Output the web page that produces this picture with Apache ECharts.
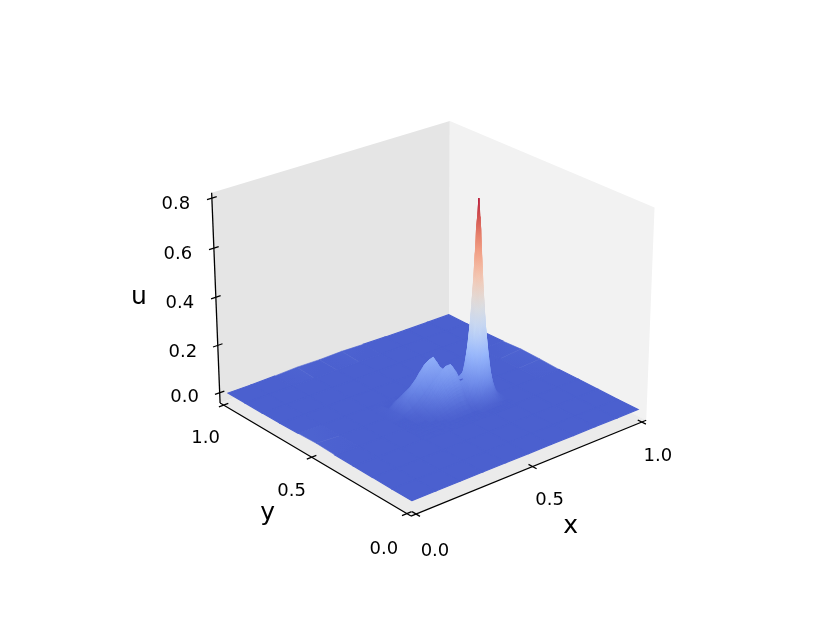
<!DOCTYPE html>
<html>
<head>
<meta charset="utf-8">
<style>html,body{margin:0;padding:0;background:#fff}#c{width:830px;height:623px}</style>
<script src="https://cdn.jsdelivr.net/npm/echarts@6/dist/echarts.min.js"></script>
</head>
<body>
<div id="c"></div>
<script>
// ---- axis contents
const xTicks = [0, 0.5, 1];
const yTicks = [0, 0.5, 1];
const uTicks = [0, 0.2, 0.4, 0.6, 0.8];
const xTickLabels = ['0.0', '0.5', '1.0'];
const yTickLabels = ['0.0', '0.5', '1.0'];
const uTickLabels = ['0.0', '0.2', '0.4', '0.6', '0.8'];
const uMin = -0.012, uMax = 0.82;

// ---- coarse sheet of the whole domain (rows: y, columns: x)
const sheetX = [0, .1, .2, .3, .4, .5, .6, .7, .8, .9, 1];
const sheetY = [0, .1, .2, .3, .4, .5, .6, .7, .8, .9, 1];
const sheetU = [
  [ .000, .000, .000, .000, .000, .000, .000, .000, .000, .000, .000],
  [ .000, .000, .000, .000, .000, .000, .000, .000, .000, .000, .000],
  [ .001, .000, .000, .000, .000, .000, .000, .000, .000, .000, .001],
  [ .002, .000, .000, .000, .000, .000, .000, .000, .000, .000, .002],
  [ .003, .000, .000, .000, .000, .000, .000, .000, .000, .000, .002],
  [ .006, .000, .000, .000, .000, .000, .000, .000, .000, .000, .006],
  [ .003, .000, .000, .000, .000, .000, .000, .000, .000, .000, .008],
  [ .001, .000, .000, .000, .000, .000, .000, .000, .000, .000, .003],
  [ .000, .000, .000, .000, .000, .000, .000, .000, .000, .000, .001],
  [ .000, .000, .000, .000, .000, .000, .000, .000, .000, .000, .000],
  [ .000, .000, .002, .006, .004, .006, .003, .001, .000, .000, .000]
];

// ---- finer patch around the three humps (rows: y, columns: x)
const patchX = [.30,.345,.385,.415,.44,.46,.48,.495,.51,.525,.545,.56,.573,
                .593,.603,.613,.618,.623,.628,.633,.638,.643,.648,.653,.663,.673,.693,.713];
const patchY = [.293,.318,.338,.358,.373,.383,.393,.398,.403,.408,.413,.418,.423,.428,.433,.443,.453,.468,.488,.503,.513,.543,.578,.60];
const patchU = [
 [0,0,0,0,0,0,0,0,0,0,0,0,0, 0,0,0,0,0,0,0,0,0,0,0,0,0,0,0],
 [0,0,0,0,0,0,.001,.001,.001,.001,.001,.001,.001, 0,0,0,0,0,0,0,0,0,0,0,0,0,0,0],
 [0,0,0,.001,.001,.001,.002,.002,.003,.003,.003,.003,.002, .004,.006,.008,.009,.009,.01,.01,.01,.009,.008,.007,.005,.003,0,0],
 [0,0,.001,.002,.003,.005,.007,.008,.009,.01,.01,.009,.012, .023,.034,.042,.047,.049,.05,.051,.05,.047,.045,.04,.03,.018,.004,0],
 [0,0,.002,.004,.007,.011,.015,.018,.02,.022,.023,.021,.03, .056,.083,.112,.129,.138,.145,.147,.144,.136,.126,.108,.075,.045,.012,.002],
 [0,.001,.003,.006,.012,.017,.023,.028,.032,.035,.036,.033,.048, .093,.138,.193,.217,.24,.249,.253,.247,.237,.211,.186,.126,.075,.02,.003],
 [0,.001,.004,.009,.017,.025,.034,.04,.046,.05,.052,.048,.069, .132,.203,.282,.32,.363,.396,.405,.394,.358,.312,.271,.186,.107,.028,.004],
 [0,.001,.005,.011,.02,.03,.04,.048,.055,.06,.062,.058,.079, .145,.225,.325,.387,.439,.477,.496,.474,.433,.377,.312,.211,.125,.031,.004],
 [0,.001,.005,.013,.024,.035,.047,.057,.064,.07,.073,.068,.085, .155,.25,.372,.444,.521,.593,.626,.59,.514,.433,.357,.236,.136,.033,.005],
 [0,.001,.006,.015,.027,.04,.055,.065,.074,.081,.084,.078,.09, .16,.26,.41,.486,.598,.70,.747,.696,.589,.473,.392,.246,.143,.034,.005],
 [0,.002,.007,.017,.031,.045,.061,.073,.083,.09,.094,.087,.095, .165,.27,.422,.508,.634,.751,.82,.746,.625,.494,.403,.251,.146,.035,.005],
 [0,.002,.008,.019,.034,.05,.068,.081,.092,.101,.105,.098,.10, .165,.265,.415,.49,.601,.702,.749,.697,.59,.474,.393,.246,.143,.034,.005],
 [0,.002,.008,.021,.037,.055,.075,.089,.101,.11,.115,.10,.10, .16,.255,.375,.452,.527,.598,.63,.593,.516,.434,.358,.237,.136,.033,.005],
 [0,.002,.009,.023,.041,.06,.082,.098,.111,.121,.126,.105,.10, .155,.235,.33,.399,.449,.485,.501,.479,.436,.38,.314,.212,.126,.031,.004],
 [0,.002,.01,.025,.045,.065,.088,.105,.119,.13,.135,.115,.10, .14,.21,.29,.33,.375,.405,.412,.399,.362,.315,.274,.187,.108,.028,.004],
 [0,.003,.012,.029,.05,.072,.098,.116,.131,.147,.153,.128,.10, .115,.155,.205,.232,.256,.262,.263,.255,.242,.215,.189,.127,.076,.02,.003],
 [0,.003,.015,.035,.057,.081,.108,.127,.147,.158,.158,.125,.09, .085,.105,.13,.148,.157,.159,.158,.152,.142,.13,.111,.077,.046,.012,.002],
 [0,.004,.024,.044,.065,.085,.105,.117,.128,.138,.125,.09,.06, .05,.055,.06,.062,.062,.061,.059,.056,.052,.049,.042,.031,.019,.004,0],
 [0,.007,.046,.073,.1,.122,.145,.155,.16,.142,.11,.083,.059, .033,.025,.02,.018,.017,.016,.015,.013,.011,.01,.008,.006,.003,0,0],
 [0,.008,.053,.083,.112,.14,.166,.176,.18,.155,.116,.085,.059, .028,.018,.011,.009,.007,.006,.005,.004,.003,.002,.002,.001,0,0,0],
 [0,.007,.05,.079,.106,.132,.155,.165,.168,.147,.109,.079,.055, .026,.017,.011,.009,.007,.006,.004,.003,.003,.002,.001,.001,0,0,0],
 [0,.004,.03,.047,.062,.073,.082,.085,.087,.082,.064,.047,.033, .016,.01,.006,.005,.004,.003,.003,.002,.002,.001,.001,0,0,0,0],
 [0,0,-.004,-.004,.001,.005,.008,.009,.01,.009,.007,.005,.004, .002,.001,.001,0,0,0,0,0,0,0,0,0,0,0,0],
 [0,0,0,0,0,0,0,0,0,0,0,0,0, 0,0,0,0,0,0,0,0,0,0,0,0,0,0,0]
];

// ---- colour ramp (coolwarm)
const ramp = [[52,74,200],[98,130,234],[141,176,254],[190,212,248],[221,220,220],[245,196,173],[244,152,122],[221,96,76],[180,4,38]];
const surfaceAlpha = 0.9, behind = 232;

// ---- view of the box: limits and the camera fitted to the picture's axes
const M = 1 / 48, Zb = -0.044, Zt = 0.8215;
const lo = -M, hi = 1 + M;
const viewFit = [
  [0,0,0,411.7,501.7],[1,0,0,637.3,410],[1,1,0,449.3,314.7],[0,1,0,229.3,393.3],
  [lo,hi,0,220,393.3],[lo,hi,.2,217.7,345],[lo,hi,.4,216,297.3],[lo,hi,.6,214.3,248.3],[lo,hi,.8,211.7,198.3],
  [hi,hi,Zt,449.6,121],[hi,lo,Zt,654.6,207],[lo,hi,Zt,211.5,193],
  [lo,lo,Zb,411.7,515],[hi,lo,Zb,645,420.7],[lo,hi,Zb,220,404],
  [.5,lo,Zb,533,466.7],[1,lo,Zb,643,421.5],[lo,.5,Zb,310.7,457],[lo,1,Zb,222,403.3]
];
function fitCamera(pts) {
  const n = 11, A = Array.from({length:n}, () => new Array(n + 1).fill(0));
  const add = r => { for (let a = 0; a < n; a++) { for (let b = 0; b < n; b++) A[a][b] += r[a]*r[b]; A[a][n] += r[a]*r[n]; } };
  pts.forEach(([x,y,z,sx,sy]) => {
    const u = sx/400, v = sy/400;
    add([x,y,z,1,0,0,0,0,-u*x,-u*y,-u*z,u]);
    add([0,0,0,0,x,y,z,1,-v*x,-v*y,-v*z,v]);
  });
  for (let c = 0; c < n; c++) {
    let p = c; for (let r = c+1; r < n; r++) if (Math.abs(A[r][c]) > Math.abs(A[p][c])) p = r;
    [A[c],A[p]] = [A[p],A[c]];
    for (let r = 0; r < n; r++) if (r !== c) { const f = A[r][c]/A[c][c]; for (let k = c; k <= n; k++) A[r][k] -= f*A[c][k]; }
  }
  return A.map((row,i) => row[n]/row[i]);
}
const P = fitCamera(viewFit);
function project(x, y, z) {
  const w = P[8]*x + P[9]*y + P[10]*z + 1;
  return [400*(P[0]*x+P[1]*y+P[2]*z+P[3])/w, 400*(P[4]*x+P[5]*y+P[6]*z+P[7])/w];
}
function colorOf(u) {
  const t = Math.min(1, Math.max(0, (u - uMin)/(uMax - uMin))) * (ramp.length - 1);
  const i = Math.min(ramp.length - 2, Math.floor(t)), f = t - i;
  const c = ramp[i].map((v,k) => v + (ramp[i+1][k]-v)*f);
  return 'rgb(' + c.map(v => Math.round(surfaceAlpha*v + (1-surfaceAlpha)*behind)).join(',') + ')';
}
function quads(xs, ys, us) {
  const out = [];
  for (let j = ys.length - 2; j >= 0; j--) for (let i = xs.length - 2; i >= 0; i--)
    out.push([xs[i], xs[i+1], ys[j], ys[j+1], us[j][i], us[j][i+1], us[j+1][i+1], us[j+1][i]]);
  return out;
}
const surfaceData = quads(sheetX, sheetY, sheetU).concat(quads(patchX, patchY, patchU));

function renderQuad(params, api) {
  const x0=api.value(0), x1=api.value(1), y0=api.value(2), y1=api.value(3);
  const hs=[api.value(4), api.value(5), api.value(6), api.value(7)];
  const pts = [project(x0,y0,hs[0]), project(x1,y0,hs[1]), project(x1,y1,hs[2]), project(x0,y1,hs[3])].map(p => api.coord(p));
  let lowI = 0, highI = 0;
  hs.forEach((h,i) => { if (h < hs[lowI]) lowI = i; if (h > hs[highI]) highI = i; });
  let col, width = 0.6;
  if (hs[highI] - hs[lowI] < 0.004) {
    col = colorOf(0);
    width = 1.2;
  } else {
    const mid = (hs[lowI] + hs[highI]) / 2;
    col = {type:'linear', global:true,
      x:pts[lowI][0], y:pts[lowI][1], x2:pts[highI][0], y2:pts[highI][1],
      colorStops:[{offset:0,color:colorOf(hs[lowI])},{offset:0.5,color:colorOf(mid)},{offset:1,color:colorOf(hs[highI])}]};
  }
  return {type:'polygon', shape:{points:pts}, style:{fill:col, stroke:col, lineWidth:width}, silent:true};
}

// panes
const paneData = [
  {c:'#e5e5e5', p:[[lo,hi,Zb],[hi,hi,Zb],[hi,hi,Zt],[lo,hi,Zt]]},
  {c:'#f2f2f2', p:[[hi,hi,Zb],[hi,lo,Zb],[hi,lo,Zt],[hi,hi,Zt]]},
  {c:'#ebebeb', p:[[lo,lo,Zb],[hi,lo,Zb],[hi,hi,Zb],[lo,hi,Zb]]}
];
// lines: axis spines and tick marks
const T = 0.02;
const lineData = [
  [[lo,lo,Zb],[hi,lo,Zb]], [[lo,lo,Zb],[lo,hi,Zb]], [[lo,hi,Zb],[lo,hi,Zt]]
].concat(xTicks.map(v => [[v,lo-T,Zb],[v,lo+T,Zb]]))
 .concat(yTicks.map(v => [[lo-T,v,Zb],[lo+T,v,Zb]]))
 .concat(uTicks.map(v => [[lo-T,hi,v],[lo+T,hi,v]]));

// text: tick labels sit at a fixed offset from their tick
const xLabelShift = [[19,37],[17,34],[16,34]];
const yLabelShift = [[-23,36],[-20,34],[-18,33]];
const uLabelShift = [[-35,5],[-35,7],[-36,6],[-36,6],[-36,6]];
const textData = [];
xTicks.forEach((v,i) => { const p = project(v,lo,Zb); textData.push({t:xTickLabels[i], p:[p[0]+xLabelShift[i][0], p[1]+xLabelShift[i][1]], s:18}); });
yTicks.forEach((v,i) => { const p = project(lo,v,Zb); textData.push({t:yTickLabels[i], p:[p[0]+yLabelShift[i][0], p[1]+yLabelShift[i][1]], s:18}); });
uTicks.forEach((v,i) => { const p = project(lo,hi,v); textData.push({t:uTickLabels[i], p:[p[0]+uLabelShift[i][0], p[1]+uLabelShift[i][1]], s:18}); });
const xName = project(.5,lo,Zb), yName = project(lo,.5,Zb), uName = project(lo,hi,.4);
textData.push({t:'x', p:[xName[0]+38, xName[1]+60], s:25});
textData.push({t:'y', p:[yName[0]-44, yName[1]+56], s:25});
textData.push({t:'u', p:[uName[0]-77, uName[1]], s:25});

const chart = echarts.init(document.getElementById('c'), null, {renderer:'canvas', width:830, height:623});
chart.setOption({
  animation:false,
  backgroundColor:'#ffffff',
  grid:{left:0,right:0,top:0,bottom:0},
  xAxis:{type:'value',min:0,max:830,show:false},
  yAxis:{type:'value',min:0,max:623,inverse:true,show:false},
  tooltip:{show:false},
  series:[
    {type:'custom',coordinateSystem:'cartesian2d',silent:true,clip:false,z:1,
     data:paneData.map((d,i)=>[i]),
     renderItem:(p,api)=>{const d=paneData[api.value(0)];
       return {type:'polygon',shape:{points:d.p.map(q=>api.coord(project(q[0],q[1],q[2])))},style:{fill:d.c}};}},
    {type:'custom',name:'u',coordinateSystem:'cartesian2d',silent:true,clip:false,z:2,progressive:0,
     dimensions:['x0','x1','y0','y1','a','b','c','d'],encode:{x:0,y:2},
     data:surfaceData,renderItem:renderQuad},
    {type:'custom',coordinateSystem:'cartesian2d',silent:true,clip:false,z:3,
     data:lineData.map((d,i)=>[i]),
     renderItem:(p,api)=>{const d=lineData[api.value(0)],a=api.coord(project(...d[0])),b=api.coord(project(...d[1]));
       return {type:'line',shape:{x1:a[0],y1:a[1],x2:b[0],y2:b[1]},style:{stroke:'#000',lineWidth:1.3}};}},
    {type:'custom',coordinateSystem:'cartesian2d',silent:true,clip:false,z:4,
     data:textData.map((d,i)=>[i]),
     renderItem:(p,api)=>{const d=textData[api.value(0)],a=api.coord(d.p);
       return {type:'text',x:a[0],y:a[1],style:{text:d.t,fill:'#000',font:d.s+'px "DejaVu Sans"',textAlign:'center',textVerticalAlign:'middle'}};}}
  ]
});
</script>
</body>
</html>
